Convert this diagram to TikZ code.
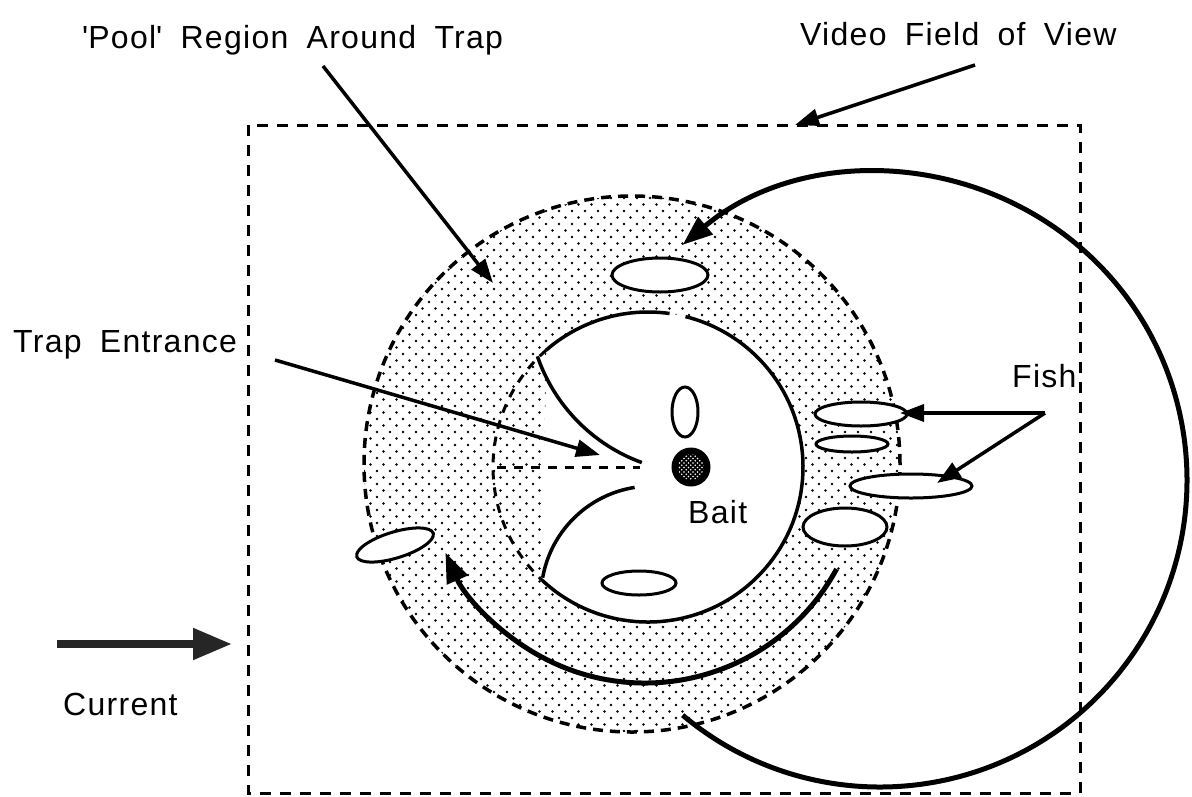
\documentclass[tikz,border=0pt]{standalone}
\usepackage{fontspec}
\setmainfont{Liberation Sans}
\newfontfamily\lblfont[LetterSpace=4, WordSpace=1.8]{Liberation Sans}
\usetikzlibrary{arrows.meta,patterns}

% sparse stagger of dots for the pool region
\pgfdeclarepatternformonly{pooldots}{\pgfqpoint{-2pt}{-2pt}}{\pgfqpoint{9pt}{9pt}}{\pgfqpoint{13pt}{13pt}}{%
  \pgfpathcircle{\pgfqpoint{0pt}{0pt}}{1.4pt}%
  \pgfpathcircle{\pgfqpoint{6.5pt}{6.5pt}}{1.4pt}%
  \pgfusepath{fill}}
% fine speckle for the bait
\pgfdeclarepatternformonly{baitdots}{\pgfqpoint{-1pt}{-1pt}}{\pgfqpoint{3pt}{3pt}}{\pgfqpoint{4.5pt}{4.5pt}}{%
  \pgfpathcircle{\pgfqpoint{0pt}{0pt}}{0.8pt}%
  \pgfpathcircle{\pgfqpoint{2.25pt}{2.25pt}}{0.8pt}%
  \pgfusepath{fill}}

\tikzset{
  lbl/.style={inner sep=0pt, anchor=base west,
    font=\lblfont\fontsize{32}{38}\selectfont},
  fovbox/.style={line width=3pt, dash pattern=on 11pt off 9pt},
  poolrim/.style={line width=3.5pt, dash pattern=on 10pt off 7pt},
  trapline/.style={line width=3.5pt},
  mouthline/.style={line width=3pt, dash pattern=on 9pt off 8pt},
  fishbody/.style={line width=3pt, draw=black, fill=white},
  pointer/.style={line width=3.5pt, -{Triangle[length=24pt,width=17pt]}},
  swim/.style={line width=5pt, -{Triangle[length=30pt,width=22pt]}},
  flow/.style={line width=8pt, draw=black!85, -{Triangle[length=39pt,width=30pt]}},
}

\begin{document}
\begin{tikzpicture}[x=1pt,y=1pt]
\useasboundingbox (0,0) rectangle (1192,-796);

% pool region around the trap
\fill[pattern=pooldots] (632,-464) circle[radius=268pt];
\draw[poolrim] (632,-464) circle[radius=268pt];

% trap body (white) with its two jaws
\fill[white] (537.4,-356.3) arc[start angle=199,end angle=250,radius=173pt]
  -- (634.6,-487.4) arc[start angle=99,end angle=170,radius=111pt]
  -- (648,-467) ++(227:155pt) arc[start angle=227,end angle=491,radius=155pt] -- cycle;
\draw[trapline] (537.4,-356.3) arc[start angle=199,end angle=250,radius=173pt];
\draw[trapline] (634.6,-487.4) arc[start angle=99,end angle=170,radius=111pt];
\draw[trapline] (648,-467) ++(227:155pt) arc[start angle=227,end angle=436,radius=155pt];
\draw[trapline] (648,-467) ++(82:155pt) arc[start angle=82,end angle=131,radius=155pt];

% trap outline across the mouth and the entrance line
\draw[mouthline] (648,-467) ++(131:155pt) arc[start angle=131,end angle=227,radius=155pt];
\draw[mouthline] (497,-467) -- (640,-467);

% fish
\draw[fishbody] (660,-275) ellipse[x radius=48pt, y radius=17pt];
\draw[fishbody] (685,-412) ellipse[x radius=13pt, y radius=25pt];
\draw[fishbody] (639,-583) ellipse[x radius=37pt, y radius=12pt];
\draw[fishbody] (861,-414) ellipse[x radius=46pt, y radius=12pt];
\draw[fishbody] (852,-444) ellipse[x radius=36pt, y radius=8pt];
\draw[fishbody] (911,-486) ellipse[x radius=61pt, y radius=12pt];
\draw[fishbody] (845,-527) ellipse[x radius=42pt, y radius=19pt];
\draw[fishbody, rotate around={17:(395,-545)}] (395,-545) ellipse[x radius=40pt, y radius=13pt];

% bait
\fill[black] (691,-467) circle[radius=18pt];
\fill[pattern=baitdots, pattern color=white] (691,-467) circle[radius=13pt];
\draw[line width=3pt] (691,-467) circle[radius=18pt];

% swimming paths
\draw[swim] (880,-480) ++(230:307pt) arc[start angle=230,end angle=490,radius=307pt];
\draw[swim] (645,-465) ++(331.5:218pt) arc[start angle=331.5,end angle=203.7,radius=218pt];

% video field of view
\draw[fovbox] (248,-125) rectangle (1080,-793);

% labels
\node[lbl] (poolLbl) at (82,-48) {\textquotesingle Pool\textquotesingle{} Region Around Trap};
\node[lbl] (videoLbl) at (800,-45) {Video Field of View};
\node[lbl] (entLbl) at (13,-352) {Trap Entrance};
\node[lbl] (fishLbl) at (1012,-387) {Fish};
\node[lbl] (baitLbl) at (688,-523) {Bait};
\node[lbl] (curLbl) at (63,-715) {Current};

% pointers
\coordinate (poolFrom) at (323,-66);
\coordinate (poolTip) at (493,-283);
\coordinate (videoFrom) at (975,-65);
\coordinate (videoTip) at (795,-125);
\coordinate (entFrom) at (275,-360);
\coordinate (entTip) at (600,-455);
\coordinate (fishFork) at (1045,-413);
\coordinate (fishTipA) at (900,-413);
\coordinate (fishTipB) at (937,-483);
\coordinate (curFrom) at (57,-644);
\coordinate (curTip) at (232,-644);

\draw[pointer] (poolFrom) -- (poolTip);
\draw[pointer] (videoFrom) -- (videoTip);
\draw[pointer] (entFrom) -- (entTip);
\draw[pointer] (fishFork) -- (fishTipA);
\draw[pointer] (fishFork) -- (fishTipB);
\draw[flow] (curFrom) -- (curTip);
\end{tikzpicture}
\end{document}
